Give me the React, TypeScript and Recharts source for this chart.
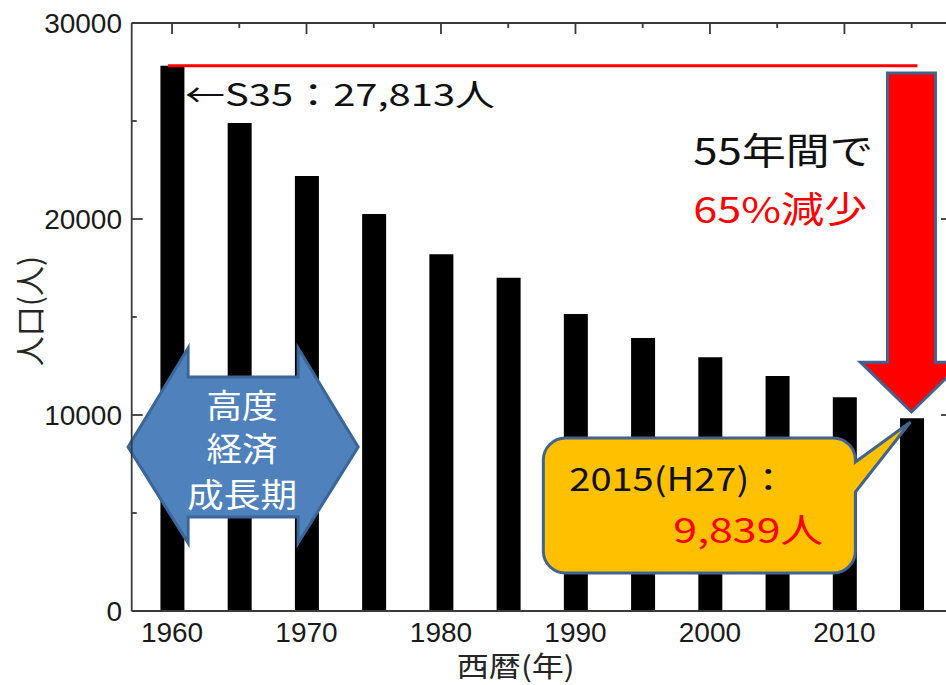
import React from 'react';
import { BarChart, Bar, XAxis, YAxis, ReferenceLine, ReferenceDot } from 'recharts';

const years = [1960, 1965, 1970, 1975, 1980, 1985, 1990, 1995, 2000, 2005, 2010, 2015];
const population = [27813, 24900, 22200, 20250, 18200, 17000, 15150, 13930, 12950, 11990, 10900, 9839];
const xTicks = [1960, 1965, 1970, 1975, 1980, 1985, 1990, 1995, 2000, 2005, 2010, 2015];
const yTicks = [0, 5000, 10000, 15000, 20000, 25000, 30000];

const data = years.map((y, i) => ({ year: y, pop: population[i] }));

const W = 960;
const H = 685;
const PLOT_LEFT = 131.7;
const PLOT_TOP = 23;
const PLOT_RIGHT = 952;
const AXIS = '#3a3a3a';
const NUM_FONT = '"Liberation Sans", Arial, sans-serif';
const CJK_FONT = '"Noto Sans CJK JP", "Noto Sans", sans-serif';

const XTick = (props: any) => {
  const { x, payload } = props;
  const v = payload.value as number;
  const major = v % 10 === 0;
  return (
    <g>
      <line x1={x} x2={x} y1={PLOT_TOP} y2={PLOT_TOP + (major ? 11 : 5)} stroke={AXIS} strokeWidth={1.8} />
      {major && (
        <text x={x} y={642} textAnchor="middle" fontFamily={NUM_FONT} fontSize={28} fill="#1a1a1a">
          {v}
        </text>
      )}
    </g>
  );
};

const YTick = (props: any) => {
  const { y, payload } = props;
  const v = payload.value as number;
  const major = v % 10000 === 0;
  const len = major ? 11 : 5;
  return (
    <g>
      <line x1={PLOT_LEFT} x2={PLOT_LEFT + len} y1={y} y2={y} stroke={AXIS} strokeWidth={1.8} />
      <line x1={PLOT_RIGHT} x2={PLOT_RIGHT - len} y1={y} y2={y} stroke={AXIS} strokeWidth={1.8} />
      {major && (
        <text x={122} y={y + 9.5} textAnchor="end" fontFamily={NUM_FONT} fontSize={28} fill="#1a1a1a">
          {v}
        </text>
      )}
    </g>
  );
};

const boxOf = (p: any) => {
  const x = Math.min(p.x1, p.x2);
  const y = Math.min(p.y1, p.y2);
  return { x, y, w: Math.abs(p.x2 - p.x1), h: Math.abs(p.y2 - p.y1) };
};

const BlueArrow = (props: any) => {
  const { x, y, w, h } = boxOf(props);
  const hx = 0.261 * w;
  const st = y + 0.149 * h;
  const sb = y + 0.867 * h;
  const my = y + 0.508 * h;
  const pts = [
    [x, my], [x + hx, y], [x + hx, st], [x + w - hx, st], [x + w - hx, y], [x + w, my],
    [x + w - hx, y + h], [x + w - hx, sb], [x + hx, sb], [x + hx, y + h],
  ].map((p) => p.join(',')).join(' ');
  return <polygon points={pts} fill="#4F81BD" stroke="#3A6698" strokeWidth={3} strokeLinejoin="miter" />;
};

const RedArrow = (props: any) => {
  const { x, y, w, h } = boxOf(props);
  const s1 = x + 0.265 * w;
  const s2 = x + 0.735 * w;
  const hy = y + 0.853 * h;
  const pts = [
    [s1, y], [s2, y], [s2, hy], [x + w, hy], [x + w / 2, y + h], [x, hy], [s1, hy],
  ].map((p) => p.join(',')).join(' ');
  return <polygon points={pts} fill="#FF0000" stroke="#41638F" strokeWidth={3} strokeLinejoin="miter" />;
};

const Callout = (props: any) => {
  const { x, y, w, h } = boxOf(props);
  const rx = x;
  const rr = x + 0.85 * w;
  const ry = y + 0.106 * h;
  const rb = y + h;
  const r = 22;
  const ta = y + 0.265 * h;
  const tb = y + 0.464 * h;
  const d = [
    `M ${rx + r} ${ry}`,
    `L ${rr - r} ${ry}`,
    `A ${r} ${r} 0 0 1 ${rr} ${ry + r}`,
    `L ${rr} ${ta}`,
    `L ${x + w} ${y}`,
    `L ${rr} ${tb}`,
    `L ${rr} ${rb - r}`,
    `A ${r} ${r} 0 0 1 ${rr - r} ${rb}`,
    `L ${rx + r} ${rb}`,
    `A ${r} ${r} 0 0 1 ${rx} ${rb - r}`,
    `L ${rx} ${ry + r}`,
    `A ${r} ${r} 0 0 1 ${rx + r} ${ry}`,
    'Z',
  ].join(' ');
  return <path d={d} fill="#FFC000" stroke="#41638F" strokeWidth={3} />;
};

const makeText = (text: string, color: string, size: number, len: number, anchor: 'start' | 'middle' = 'start', central = false) =>
  (props: any) => {
    const { cx, cy } = props;
    return (
      <text
        x={cx}
        y={cy}
        textAnchor={anchor}
        dominantBaseline={central ? 'central' : 'alphabetic'}
        fontFamily={CJK_FONT}
        fontSize={size}
        fill={color}
        textLength={len}
        lengthAdjust="spacingAndGlyphs"
      >
        {text}
      </text>
    );
  };

const AxisTitleX = (props: any) => {
  const vb = props.viewBox || { x: PLOT_LEFT, y: 611 };
  return (
    <text x={vb.x + 384} y={vb.y + 54} textAnchor="middle" dominantBaseline="central" fontFamily={CJK_FONT} fontSize={28} fill="#262626" textLength={118} lengthAdjust="spacingAndGlyphs">
      西暦(年)
    </text>
  );
};

const AxisTitleY = (props: any) => {
  const vb = props.viewBox || { x: 0, y: PLOT_TOP };
  const cx = vb.x + 28;
  const cy = vb.y + 288;
  return (
    <text x={cx} y={cy} transform={`rotate(-90 ${cx} ${cy})`} textAnchor="middle" dominantBaseline="central" fontFamily={CJK_FONT} fontSize={30} fill="#262626">
      人口(人)
    </text>
  );
};

export default function App() {
  return (
    <div style={{ position: 'fixed', left: 0, top: 0, width: 946, height: 685, overflow: 'hidden', background: '#ffffff' }}>
      <BarChart width={W} height={H} data={data} margin={{ top: PLOT_TOP, right: W - PLOT_RIGHT, bottom: 0, left: 0 }}>
        <XAxis
          dataKey="year"
          type="number"
          domain={[1957, 2018]}
          ticks={xTicks}
          interval={0}
          height={74}
          axisLine={{ stroke: AXIS, strokeWidth: 1.8 }}
          tickLine={false}
          tick={<XTick />}
          label={<AxisTitleX />}
        />
        <YAxis
          type="number"
          domain={[0, 30000]}
          ticks={yTicks}
          interval={0}
          width={PLOT_LEFT}
          axisLine={{ stroke: AXIS, strokeWidth: 1.8 }}
          tickLine={false}
          tick={<YTick />}
          label={<AxisTitleY />}
        />
        <Bar dataKey="pop" fill="#000000" barSize={24} isAnimationActive={false} />
        <ReferenceLine y={30000} stroke={AXIS} strokeWidth={1.8} />
        <ReferenceLine x={2018} stroke={AXIS} strokeWidth={1.8} />
        <ReferenceLine
          segment={[{ x: 1959.7, y: 27813 }, { x: 2015.43, y: 27813 }]}
          stroke="#FF0000"
          strokeWidth={3}
          ifOverflow="visible"
        />
        <ReferenceLine segment={[{ x: 2011.19, y: 27449 }, { x: 2018.78, y: 10153 }]} ifOverflow="visible" shape={RedArrow} />
        <ReferenceLine segment={[{ x: 1956.73, y: 13418 }, { x: 1973.84, y: 3469 }]} ifOverflow="visible" shape={BlueArrow} />
        <ReferenceLine segment={[{ x: 1987.61, y: 9643 }, { x: 2014.91, y: 1939 }]} ifOverflow="visible" shape={Callout} />
        <ReferenceDot x={1960.97} y={25765} r={0} ifOverflow="visible" shape={makeText('←S35：27,813人', '#111111', 31, 310)} />
        <ReferenceDot x={1998.76} y={22755} r={0} ifOverflow="visible" shape={makeText('55年間で', '#111111', 37, 180)} />
        <ReferenceDot x={1998.76} y={19796} r={0} ifOverflow="visible" shape={makeText('65%減少', '#FF0000', 36, 174)} />
        <ReferenceDot x={1989.54} y={6122} r={0} ifOverflow="visible" shape={makeText('2015(H27)：', '#111111', 32, 218)} />
        <ReferenceDot x={1997.28} y={3469} r={0} ifOverflow="visible" shape={makeText('9,839人', '#FF0000', 34, 150)} />
        <ReferenceDot x={1965.21} y={10561} r={0} ifOverflow="visible" shape={makeText('高度', '#FFFFFF', 33, 71, 'middle', true)} />
        <ReferenceDot x={1965.21} y={8342} r={0} ifOverflow="visible" shape={makeText('経済', '#FFFFFF', 33, 71, 'middle', true)} />
        <ReferenceDot x={1965.21} y={6020} r={0} ifOverflow="visible" shape={makeText('成長期', '#FFFFFF', 33, 110, 'middle', true)} />
      </BarChart>
    </div>
  );
}
